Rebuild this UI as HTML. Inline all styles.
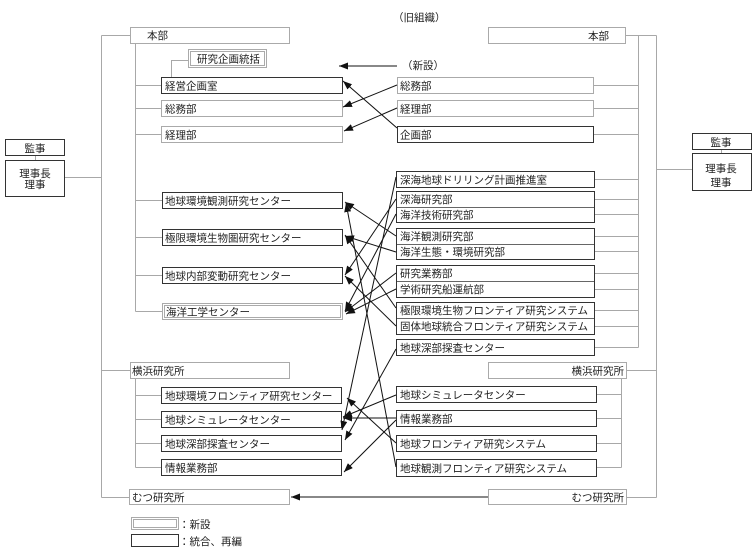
<!DOCTYPE html>
<html><head><meta charset="utf-8"><style>
html,body{margin:0;padding:0;background:#fff;}
svg{display:block;}
text{font-family:"Liberation Sans","Noto Sans CJK JP",sans-serif;font-size:10.5px;fill:#222;}
.g{fill:#fff;stroke:#aaa;stroke-width:1;}
.d{fill:#fff;stroke:#333;stroke-width:1;}
.c{stroke:#a8a8a8;stroke-width:1;fill:none;}
.a{stroke:#111;stroke-width:1;fill:none;marker-end:url(#ah);}
.dv{stroke:#666;stroke-width:1;}
</style></head><body>
<svg width="755" height="550" viewBox="0 0 755 550" xmlns="http://www.w3.org/2000/svg">
<defs>
<marker id="ah" markerWidth="9" markerHeight="7" refX="9" refY="3.5" orient="auto" markerUnits="userSpaceOnUse"><path d="M0,0 L9,3.5 L0,7 z" fill="#111"/></marker>
</defs>

<!-- LEFT connectors -->
<path class="c" d="M101.5,35.5 V497.5 M101.5,35.5 H130 M64,177.5 H101.5 M101.5,370.5 H130 M101.5,497.5 H129"/>
<path class="c" d="M135.5,43 V311.5 M135.5,85.5 H161 M135.5,108.5 H161 M135.5,134.5 H161 M135.5,200.5 H162 M135.5,237.5 H162 M135.5,275.5 H162 M135.5,311.5 H162"/>
<path class="c" d="M171.5,77 V60.5 H188"/>
<path class="c" d="M135.5,378 V467.5 M135.5,395.5 H161 M135.5,419.5 H161 M135.5,443.5 H161 M135.5,467.5 H161"/>
<path class="c" d="M35.5,156 V160"/>

<!-- executives left -->
<rect class="d" x="5.5" y="139.5" width="59" height="16"/>
<text x="35" y="152" text-anchor="middle">監事</text>
<rect class="d" x="5.5" y="160.5" width="59" height="36"/>
<text x="35" y="177" text-anchor="middle">理事長</text>
<text x="35" y="188" text-anchor="middle">理事</text>

<!-- left boxes -->
<rect class="g" x="130.5" y="27.5" width="159" height="16"/>
<text x="147" y="39">本部</text>
<rect class="g" x="188.5" y="49.5" width="78" height="18"/>
<rect class="g" x="190.5" y="51.5" width="74" height="14"/>
<text x="197" y="62.5">研究企画統括</text>
<rect class="d" x="161.5" y="77.5" width="181" height="16"/>
<text x="165" y="89.5">経営企画室</text>
<rect class="g" x="161.5" y="100.5" width="181" height="16"/>
<text x="165" y="112.5">総務部</text>
<rect class="g" x="161.5" y="126.5" width="181" height="16"/>
<text x="165" y="138.5">経理部</text>

<rect class="d" x="162.5" y="192.5" width="180" height="16"/>
<text x="165" y="204.5">地球環境観測研究センター</text>
<rect class="d" x="162.5" y="229.5" width="180" height="16"/>
<text x="165" y="241.5">極限環境生物圏研究センター</text>
<rect class="d" x="162.5" y="267.5" width="180" height="16"/>
<text x="165" y="279.5">地球内部変動研究センター</text>
<rect class="g" x="162.5" y="303.5" width="180" height="16"/>
<rect class="g" x="164.5" y="305.5" width="176" height="12"/>
<text x="166" y="315.5">海洋工学センター</text>

<rect class="g" x="130.5" y="362.5" width="159" height="16"/>
<text x="132" y="374.5">横浜研究所</text>
<rect class="d" x="161.5" y="387.5" width="180" height="16"/>
<text x="165" y="399.5">地球環境フロンティア研究センター</text>
<rect class="d" x="161.5" y="411.5" width="180" height="16"/>
<text x="165" y="423.5">地球シミュレータセンター</text>
<rect class="d" x="161.5" y="435.5" width="180" height="16"/>
<text x="165" y="447.5">地球深部探査センター</text>
<rect class="d" x="161.5" y="459.5" width="180" height="16"/>
<text x="165" y="471.5">情報業務部</text>
<rect class="g" x="129.5" y="489.5" width="160" height="15"/>
<text x="132" y="501">むつ研究所</text>

<!-- legend -->
<rect class="g" x="131.5" y="517.5" width="47" height="12"/>
<rect class="g" x="133.5" y="519.5" width="43" height="8"/>
<text x="179" y="528">：新設</text>
<rect class="d" x="131.5" y="534.5" width="47" height="12"/>
<text x="179" y="545">：統合、再編</text>

<!-- RIGHT connectors -->
<path class="c" d="M625,35.5 H656.5 M638.5,35.5 V347.5 M656.5,35.5 V497.5 M656.5,169.5 H692"/>
<path class="c" d="M593,85.5 H638.5 M593,108.5 H638.5 M593,134.5 H638.5"/>
<path class="c" d="M594,179.5 H638.5 M594,199.5 H638.5 M594,214.5 H638.5 M594,236.5 H638.5 M594,251.5 H638.5 M594,273.5 H638.5 M594,289.5 H638.5 M594,310.5 H638.5 M594,326.5 H638.5 M594,347.5 H638.5"/>
<path class="c" d="M626,370.5 H656.5 M621.5,378 V467.5 M596,394.5 H621.5 M596,418.5 H621.5 M596,443.5 H621.5 M596,467.5 H621.5 M626,497.5 H656.5"/>
<path class="c" d="M721.5,149 V153"/>

<text x="393" y="21">（旧組織）</text>
<text x="402" y="69">（新設）</text>

<!-- executives right -->
<rect class="d" x="692.5" y="133.5" width="59" height="16"/>
<text x="721" y="146" text-anchor="middle">監事</text>
<rect class="d" x="692.5" y="153.5" width="59" height="37"/>
<text x="721" y="172" text-anchor="middle">理事長</text>
<text x="721" y="186" text-anchor="middle">理事</text>

<!-- right boxes -->
<rect class="g" x="488.5" y="27.5" width="137" height="16"/>
<text x="609" y="39.5" text-anchor="end">本部</text>
<rect class="g" x="397.5" y="77.5" width="196" height="16"/>
<text x="400" y="89.5">総務部</text>
<rect class="g" x="397.5" y="100.5" width="196" height="16"/>
<text x="400" y="112.5">経理部</text>
<rect class="d" x="397.5" y="126.5" width="196" height="16"/>
<text x="400" y="138.5">企画部</text>

<rect class="d" x="396.5" y="171.5" width="198" height="16"/>
<text x="400" y="183.5">深海地球ドリリング計画推進室</text>
<rect class="d" x="396.5" y="191.5" width="198" height="31"/>
<line class="dv" x1="397" y1="207.5" x2="594" y2="207.5"/>
<text x="400" y="203">深海研究部</text>
<text x="400" y="218.5">海洋技術研究部</text>
<rect class="d" x="396.5" y="228.5" width="198" height="31"/>
<line class="dv" x1="397" y1="244.5" x2="594" y2="244.5"/>
<text x="400" y="240">海洋観測研究部</text>
<text x="400" y="255.5">海洋生態・環境研究部</text>
<rect class="d" x="396.5" y="265.5" width="198" height="32"/>
<line class="dv" x1="397" y1="281.5" x2="594" y2="281.5"/>
<text x="400" y="277">研究業務部</text>
<text x="400" y="293">学術研究船運航部</text>
<rect class="d" x="396.5" y="302.5" width="198" height="32"/>
<line class="dv" x1="397" y1="318.5" x2="594" y2="318.5"/>
<text x="400" y="314">極限環境生物フロンティア研究システム</text>
<text x="400" y="330">固体地球統合フロンティア研究システム</text>
<rect class="d" x="396.5" y="339.5" width="198" height="16"/>
<text x="400" y="351.5">地球深部探査センター</text>

<rect class="g" x="488.5" y="362.5" width="138" height="16"/>
<text x="624" y="374.5" text-anchor="end">横浜研究所</text>
<rect class="d" x="396.5" y="386.5" width="200" height="16"/>
<text x="400" y="398.5">地球シミュレータセンター</text>
<rect class="d" x="396.5" y="410.5" width="200" height="16"/>
<text x="400" y="422.5">情報業務部</text>
<rect class="d" x="396.5" y="435.5" width="200" height="16"/>
<text x="400" y="447.5">地球フロンティア研究システム</text>
<rect class="d" x="396.5" y="459.5" width="200" height="17"/>
<text x="400" y="472">地球観測フロンティア研究システム</text>
<rect class="g" x="488.5" y="489.5" width="138" height="15"/>
<text x="624" y="501" text-anchor="end">むつ研究所</text>

<!-- arrows -->
<line class="a" x1="397" y1="66" x2="339" y2="66"/>
<line class="a" x1="397" y1="85" x2="343" y2="107"/>
<line class="a" x1="397" y1="108" x2="344" y2="131"/>
<line class="a" x1="397" y1="128" x2="343" y2="81"/>

<line class="a" x1="396" y1="177" x2="342" y2="430"/>
<line class="a" x1="396" y1="199" x2="345" y2="275"/>
<line class="a" x1="396" y1="214" x2="345" y2="311"/>
<line class="a" x1="396" y1="236" x2="345" y2="202"/>
<line class="a" x1="396" y1="252" x2="345" y2="236"/>
<line class="a" x1="396" y1="273" x2="345" y2="312"/>
<line class="a" x1="396" y1="289" x2="346" y2="314"/>
<line class="a" x1="396" y1="308" x2="345" y2="235"/>
<line class="a" x1="396" y1="326" x2="345" y2="276"/>
<line class="a" x1="396" y1="349" x2="345" y2="440"/>
<line class="a" x1="396" y1="467" x2="346" y2="203"/>

<line class="a" x1="396" y1="395" x2="343" y2="417"/>
<line class="a" x1="396" y1="418" x2="343" y2="418"/>
<line class="a" x1="396" y1="420" x2="344" y2="472"/>
<line class="a" x1="396" y1="443" x2="347" y2="398"/>
<line class="a" x1="488" y1="497" x2="291" y2="497"/>
</svg>
</body></html>
